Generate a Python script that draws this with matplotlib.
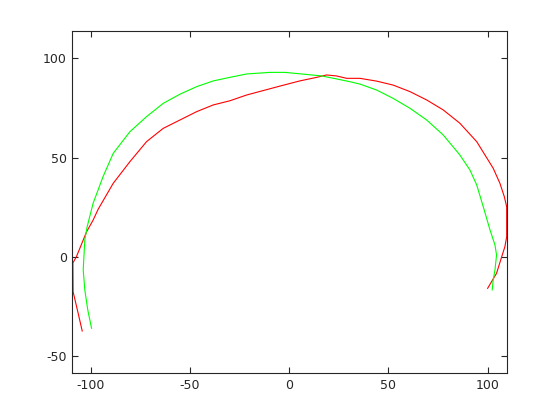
import matplotlib
matplotlib.use("Agg")
import matplotlib.pyplot as plt

plt.rcParams["axes.unicode_minus"] = False

# red trace
red_x = [-104.2, -106.4, -108.8, -108.9, -107.1, -102.0, -98.7, -96.2, -88.6, -80.2,
         -71.8, -63.4, -55.0, -46.6, -38.2, -29.8, -21.4, -4.6, 5.4, 13.9,
         18.9, 23.9, 29.0, 35.7, 44.1, 52.4, 60.9, 69.3, 77.6, 86.0,
         94.5, 102.8, 106.2, 108.4, 109.6, 109.6, 108.7, 107.1, 104.5, 102.0,
         100.0]
red_y = [-37.4, -27.8, -17.6, -3.1, 0.1, 12.6, 18.5, 23.9, 37.0, 47.9,
         58.0, 64.7, 68.9, 73.1, 76.5, 78.6, 81.5, 86.0, 88.6, 90.4,
         91.6, 91.1, 89.9, 89.9, 88.5, 86.5, 83.2, 79.0, 74.0, 67.3,
         58.0, 44.6, 37.0, 30.3, 25.2, 10.1, 5.1, 0.05, -8.3, -12.5,
         -15.9]

# green trace
green_x = [-99.5, -101.4, -102.9, -103.7, -102.9, -101.7, -98.7, -93.7, -88.6, -80.2,
           -71.8, -63.4, -55.0, -46.6, -38.2, -29.8, -21.4, -9.7, -2.1, 6.3,
           16.4, 23.9, 30.6, 35.7, 44.1, 52.4, 60.9, 69.3, 77.6, 86.0,
           91.1, 94.5, 97.8, 101.2, 103.7, 104.5, 103.7, 102.8, 102.3]
green_y = [-36.0, -26.8, -16.7, -6.6, 8.5, 15.2, 27.0, 40.4, 52.1, 63.0,
           70.6, 77.3, 81.9, 85.7, 88.6, 90.4, 92.1, 92.9, 92.9, 92.1,
           91.1, 89.6, 88.2, 87.0, 84.0, 79.8, 74.8, 68.9, 61.4, 51.3,
           43.7, 36.2, 25.2, 13.5, 5.9, 0.9, -6.6, -11.7, -16.7]

x_ticks = [-100, -50, 0, 50, 100]
y_ticks = [-50, 0, 50, 100]

AXIS_COLOR = "#262626"

fig = plt.figure(figsize=(5.6, 4.2), dpi=100)
ax = fig.add_axes([0.1291, 0.1112, 0.7757, 0.8143])

ax.plot(red_x, red_y, color="#ff0000", linewidth=0.8)
ax.plot(green_x, green_y, color="#00ff00", linewidth=0.8)

ax.set_xlim(-109.2, 109.6)
ax.set_ylim(-58.7, 113.6)
ax.set_xticks(x_ticks)
ax.set_yticks(y_ticks)

ax.tick_params(direction="in", length=4, width=0.8, top=True, right=True,
               colors=AXIS_COLOR, labelsize=9, pad=4)
for sp in ax.spines.values():
    sp.set_color(AXIS_COLOR)
    sp.set_linewidth(0.8)

fig.savefig("out.png", dpi=100)
